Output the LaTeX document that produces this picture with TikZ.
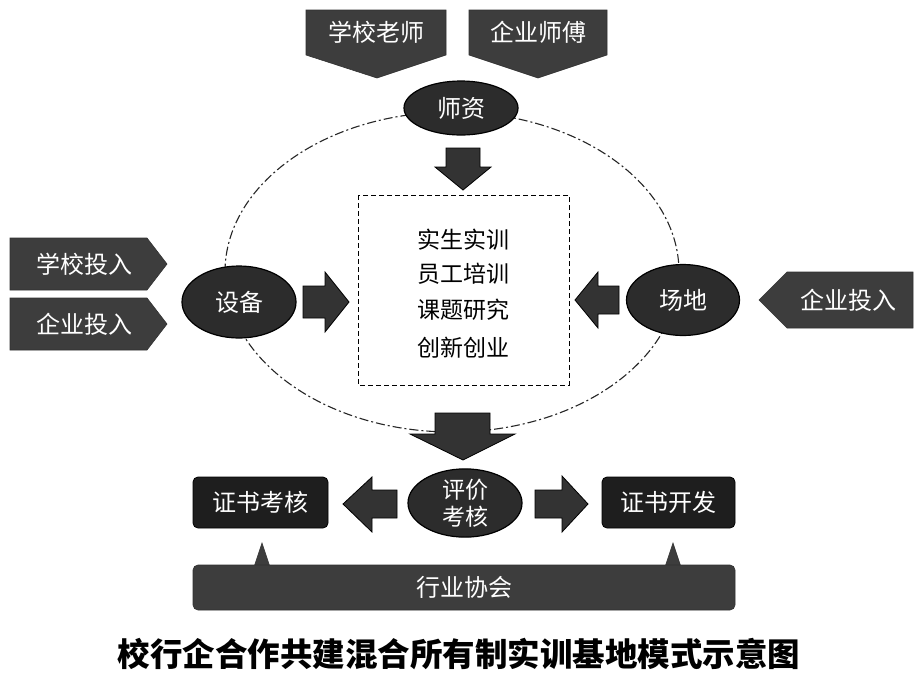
\documentclass[tikz,border=0pt]{standalone}
\usepackage{fontspec}
\setmainfont{Noto Sans CJK SC}
\usetikzlibrary{shapes.geometric}
\definecolor{grayfill}{HTML}{3D3D3D}
\definecolor{ellfill}{HTML}{2C2C2C}
\definecolor{boxfill}{HTML}{1E1E1E}
\definecolor{arrfill}{HTML}{333333}
\tikzset{
  lbl/.style={text=white, font=\fontsize{24}{28}\selectfont, inner sep=0pt},
  tag/.style={fill=grayfill, draw=grayfill!80!black, line width=0.6pt},
  ell/.style={ellipse, fill=ellfill, draw=black, line width=1.2pt, text=white,
    font=\fontsize{24}{28}\selectfont, inner sep=0pt},
  fatarrow/.style={fill=arrfill, draw=black, line width=0.8pt, line join=miter},
  darkbox/.style={rectangle, rounded corners=5pt, fill=boxfill, draw=black, line width=0.8pt,
    text=white, font=\fontsize{24}{28}\selectfont},
  boxtext/.style={text=black, font=\fontsize{23}{27}\selectfont, inner sep=0pt}
}
\begin{document}
\begin{tikzpicture}[x=1pt,y=-1pt]
\useasboundingbox (0,0) rectangle (921,673);
\fill[white] (0,0) rectangle (921,673);
% dash-dot ellipse
\draw[black!85, line width=1.1pt, dash pattern=on 9pt off 3pt on 2pt off 3pt] (452,272) ellipse [x radius=227, y radius=160];
% dashed box
\draw[black, line width=1pt, dash pattern=on 5pt off 3pt] (358,195) rectangle (569,385);
\node[boxtext] (t1) at (463,240) {实生实训};
\node[boxtext] (t2) at (463,274) {员工培训};
\node[boxtext] (t3) at (463,310) {课题研究};
\node[boxtext] (t4) at (463,348) {创新创业};
% top tags
\draw[tag] (306,10) -- (446,10) -- (446,55) -- (377,78) -- (306,55) -- cycle;
\node[lbl] (xxls) at (376,32) {学校老师};
\draw[tag] (469,10) -- (607,10) -- (607,55) -- (538,78) -- (469,55) -- cycle;
\node[lbl] (qyss) at (538,32) {企业师傅};
% left tags
\draw[tag] (10,238) -- (147,238) -- (167,264) -- (147,290) -- (10,290) -- cycle;
\node[lbl] (xxtr) at (84,264) {学校投入};
\draw[tag] (10,298) -- (147,298) -- (167,324) -- (147,350) -- (10,350) -- cycle;
\node[lbl] (qytrl) at (84,324) {企业投入};
% right tag
\draw[tag] (913,272) -- (787,272) -- (759,300) -- (787,328) -- (913,328) -- cycle;
\node[lbl] (qytrr) at (848,300) {企业投入};
% ellipses
\node[ell, minimum width=114pt, minimum height=54pt] (shizi) at (461,108) {师资};
\node[ell, minimum width=114pt, minimum height=72pt] (shebei) at (239,302) {设备};
\node[ell, minimum width=113pt, minimum height=71pt] (changdi) at (683,300) {场地};
\node[ell, minimum width=114pt, minimum height=68pt, align=center,
  font=\fontsize{23}{27}\selectfont] (pjkh) at (465,503) {评价\\考核};
% fat arrows
\draw[fatarrow] (446,148) -- (480,148) -- (480,167) -- (491,167) -- (463,190) -- (435,167) -- (446,167) -- cycle;
\draw[fatarrow] (303,286) -- (325,286) -- (325,272) -- (349,302) -- (325,332) -- (325,318) -- (303,318) -- cycle;
\draw[fatarrow] (619,286) -- (598,286) -- (598,272) -- (575,300) -- (598,328) -- (598,314) -- (619,314) -- cycle;
\draw[fatarrow] (435,413) -- (490,413) -- (490,434) -- (515,434) -- (463,460) -- (410,434) -- (435,434) -- cycle;
\draw[fatarrow] (397,490) -- (372,490) -- (372,477) -- (343,504) -- (372,532) -- (372,518) -- (397,518) -- cycle;
\draw[fatarrow] (535,490) -- (562,490) -- (562,476) -- (588,504) -- (562,532) -- (562,518) -- (535,518) -- cycle;
% dark boxes
\node[darkbox, minimum width=135pt, minimum height=51pt] (zskh) at (260.5,502.5) {证书考核};
\node[darkbox, minimum width=133pt, minimum height=51pt] (zskf) at (668.5,502.5) {证书开发};
% industry bar
\draw[tag] (254,567) -- (262,543) -- (270,567) -- cycle;
\draw[tag] (665,567) -- (673,543) -- (681,567) -- cycle;
\node[rectangle, rounded corners=5pt, fill=grayfill, draw=grayfill!80!black, line width=0.6pt,
  minimum width=542pt, minimum height=45pt, text=white, font=\fontsize{24}{28}\selectfont] (hyxh) at (464,587.5) {行业协会};
% title
\node[text=black, font=\fontsize{32.5}{36}\selectfont\bfseries, inner sep=0pt] (title) at (459,654) {校行企合作共建混合所有制实训基地模式示意图};
\end{tikzpicture}
\end{document}
